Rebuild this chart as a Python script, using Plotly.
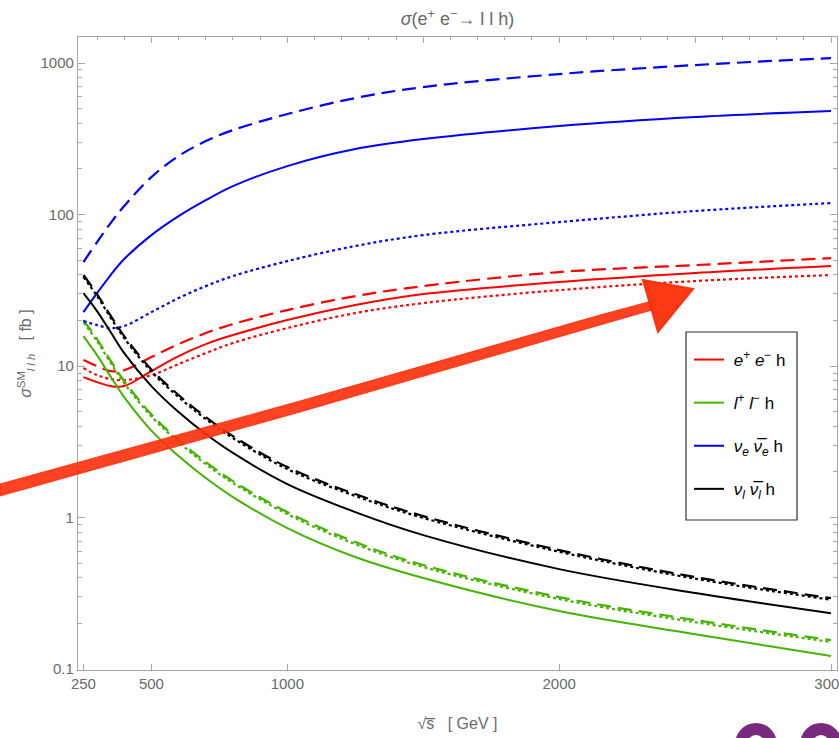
import plotly.graph_objects as go

# ---------------- data ----------------
energy = [250, 300, 350, 400, 500, 600, 700, 800, 1000, 1250, 1500, 2000, 2500, 3000]

ee_solid = [8.46, 7.84, 7.38, 7.38, 9.27, 11.64, 13.97, 16.02, 20.12, 25.27, 29.87, 35.85, 41.1, 45.7]
ee_dashed = [10.96, 10.0, 9.27, 9.41, 11.47, 13.97, 16.51, 18.93, 23.42, 28.97, 33.74, 41.74, 46.4, 51.6]
ee_dotted = [9.70, 8.72, 8.21, 8.08, 8.72, 10.31, 12.18, 14.19, 17.82, 22.38, 26.05, 31.7, 36.4, 39.9]

ll_solid = [15.78, 11.82, 8.52, 6.24, 3.75, 2.55, 1.823, 1.366, 0.853, 0.549, 0.399, 0.2415, 0.170, 0.1219]
ll_dashed = [20.12, 15.08, 10.87, 7.96, 4.79, 3.25, 2.325, 1.741, 1.087, 0.689, 0.486, 0.2987, 0.2106, 0.1554]
ll_dotted = [19.5, 14.6, 10.5, 7.7, 4.65, 3.15, 2.25, 1.69, 1.055, 0.668, 0.472, 0.29, 0.204, 0.151]

nue_solid = [22.7, 30.3, 39.9, 50.85, 73.2, 97.7, 124.6, 154.2, 208.9, 270.6, 315, 383.9, 440.2, 482]
nue_dashed = [48.6, 65.8, 87.9, 113.8, 176.8, 243.3, 305.5, 361.3, 460.7, 587.5, 694.4, 846, 970, 1079]
nue_dotted = [19.82, 18.65, 17.82, 18.37, 22.7, 28.1, 33.7, 39.3, 49.3, 62.0, 73.2, 89.2, 105.5, 119.1]

nul_solid = [30.3, 23.07, 16.77, 12.18, 7.38, 4.97, 3.56, 2.67, 1.664, 1.087, 0.766, 0.457, 0.318, 0.234]
nul_dashed = [39.9, 29.9, 21.5, 15.78, 9.48, 6.44, 4.61, 3.45, 2.154, 1.429, 1.023, 0.610, 0.405, 0.294]
nul_dotted = [38.8, 29.0, 20.9, 15.3, 9.2, 6.25, 4.47, 3.35, 2.09, 1.39, 0.995, 0.595, 0.395, 0.287]

x_tickvals = [250, 500, 1000, 2000, 3000]
x_ticktext = ["250", "500", "1000", "2000", "3000"]
top_major = [500, 1000, 1500, 2000, 2500, 3000]
top_minor = [300, 400, 600, 700, 800, 900, 1100, 1200, 1300, 1400, 1600, 1700, 1800, 1900,
             2100, 2200, 2300, 2400, 2600, 2700, 2800, 2900]
y_tickvals = [0.1, 1, 10, 100, 1000]
y_ticktext = ["0.1", "1", "10", "100", "1000"]
y_minor = [m * d for d in [0.1, 1, 10, 100, 1000] for m in range(2, 10)]

series_names = ["<i>e</i><sup>+</sup> <i>e</i><sup>\u2212</sup> h",
                "<i>l</i><sup>+</sup> <i>l</i><sup>\u2212</sup> h",
                "<i>\u03bd<sub>e</sub></i> <i>\u03bd\u0305<sub>e</sub></i> h",
                "<i>\u03bd<sub>l</sub></i> <i>\u03bd\u0305<sub>l</sub></i> h"]
series_colors = ["#ff0000", "#44b400", "#0000ff", "#000000"]

# ---------------- figure ----------------
W, H = 839, 738
ML, MR, MT, MB = 78, 2, 37, 68
TEXT = "#6a6a6a"
FRAME = "#a6a6a6"
FONT = "Liberation Sans Narrow, Liberation Sans, Arial, sans-serif"

fig = go.Figure()

groups = [
    (ee_solid, ee_dashed, ee_dotted),
    (ll_solid, ll_dashed, ll_dotted),
    (nue_solid, nue_dashed, nue_dotted),
    (nul_solid, nul_dashed, nul_dotted),
]

SM = 1.0
for i, (sol, das, dot) in enumerate(groups):
    c = series_colors[i]
    fig.add_trace(go.Scatter(x=energy, y=dot, mode="lines", showlegend=False,
                             line=dict(color=c, width=2.2, dash="3px,3px", shape="spline", smoothing=SM),
                             legendgroup=f"g{i}", hoverinfo="skip"))
    fig.add_trace(go.Scatter(x=energy, y=das, mode="lines", showlegend=False,
                             line=dict(color=c, width=2.2, dash="14px,7px", shape="spline", smoothing=SM),
                             legendgroup=f"g{i}", hoverinfo="skip"))
    fig.add_trace(go.Scatter(x=energy, y=sol, mode="lines", name=" " + series_names[i],
                             line=dict(color=c, width=2.0, shape="spline", smoothing=SM),
                             legendgroup=f"g{i}"))

# empty trace to carry the top axis
fig.add_trace(go.Scatter(x=[], y=[], xaxis="x2", yaxis="y", showlegend=False, hoverinfo="skip"))

xr = [230, 3022]
yr = [-1.006, 3.172]

fig.update_layout(
    width=W, height=H,
    margin=dict(l=ML, r=MR, t=MT, b=MB, autoexpand=False),
    paper_bgcolor="white", plot_bgcolor="white",
    font=dict(family=FONT, color=TEXT, size=15),
    title=dict(text="<i>\u03c3</i>(e<sup>+</sup> e<sup>\u2212</sup>\u2192 l l h)",
               x=(ML + (W - ML - MR) / 2) / W, xanchor="center", y=1 - 19 / H, yanchor="middle",
               font=dict(family=FONT, size=18, color=TEXT)),
    xaxis=dict(range=xr, showgrid=False, zeroline=False, showline=True, linecolor=FRAME, linewidth=1.2,
               automargin=False,
               tickmode="array", tickvals=x_tickvals, ticktext=x_ticktext, ticklabeloverflow="allow",
               ticks="inside", ticklen=6, tickcolor=FRAME, tickfont=dict(size=15, color=TEXT),
               title=dict(text="\u221as\u0305   [ GeV ]",
                          font=dict(size=16, color=TEXT), standoff=26)),
    xaxis2=dict(range=xr, overlaying="x", side="top", showgrid=False, zeroline=False,
                showline=True, linecolor=FRAME, linewidth=1.2, automargin=False,
                tickmode="array", tickvals=top_major, showticklabels=False,
                ticks="inside", ticklen=6, tickcolor=FRAME,
                minor=dict(tickvals=top_minor, ticks="inside", ticklen=3, tickcolor=FRAME)),
    yaxis=dict(type="log", range=yr, showgrid=False, zeroline=False, showline=True,
               linecolor=FRAME, linewidth=1.2, mirror="ticks", automargin=False,
               tickmode="array", tickvals=y_tickvals, ticktext=y_ticktext,
               ticks="inside", ticklen=7, tickcolor=FRAME, tickfont=dict(size=15, color=TEXT),
               minor=dict(tickvals=y_minor, ticks="inside", ticklen=4, tickcolor=FRAME),
               title=dict(text="<i>\u03c3</i><sup>SM</sup><sub><i>l l h</i></sub>   [ fb ]",
                          font=dict(size=16, color=TEXT), standoff=4)),
    legend=dict(x=(689 - ML) / (W - ML - MR), y=(H - MB - 342) / (H - MT - MB),
                xanchor="left", yanchor="top", bgcolor="rgba(0,0,0,0)", borderwidth=0,
                font=dict(family="Liberation Sans, Arial, sans-serif", size=17, color="#000000"),
                itemwidth=30, tracegroupgap=18, traceorder="grouped"),
)


# ---------------- overlay: legend frame, hand-drawn red arrow, purple rings ----------------
def px(xp):
    return (xp - ML) / (W - ML - MR)


def py(yp):
    return (H - MB - yp) / (H - MT - MB)


fig.add_shape(type="rect", xref="paper", yref="paper",
              x0=px(686), x1=px(797), y0=py(520), y1=py(332),
              line=dict(color="#333333", width=1.2), fillcolor="white", layer="above")

band_top = [(0, 484), (300, 401), (600, 315), (652, 301)]
band_bot = [(652, 310), (600, 325), (300, 412), (0, 496)]
pts = band_top + band_bot
path = "M " + " L ".join(f"{px(a):.5f},{py(b):.5f}" for a, b in pts) + " Z"
fig.add_shape(type="path", path=path, xref="paper", yref="paper",
              fillcolor="rgba(255,45,10,0.9)", line=dict(color="rgba(255,45,10,0.85)", width=1), layer="above")
head = [(643, 280), (693, 289), (658, 332)]
path2 = "M " + " L ".join(f"{px(a):.5f},{py(b):.5f}" for a, b in head) + " Z"
fig.add_shape(type="path", path=path2, xref="paper", yref="paper",
              fillcolor="rgba(255,45,10,0.95)", line=dict(color="rgba(255,45,10,0.95)", width=2), layer="above")

for cx in (756, 821):
    r = 15
    fig.add_shape(type="circle", xref="paper", yref="paper",
                  x0=px(cx - r), x1=px(cx + r), y0=py(744 + r), y1=py(744 - r),
                  line=dict(color="#7a2a7e", width=12), fillcolor="rgba(0,0,0,0)", layer="above")

fig.write_html("out.html")
